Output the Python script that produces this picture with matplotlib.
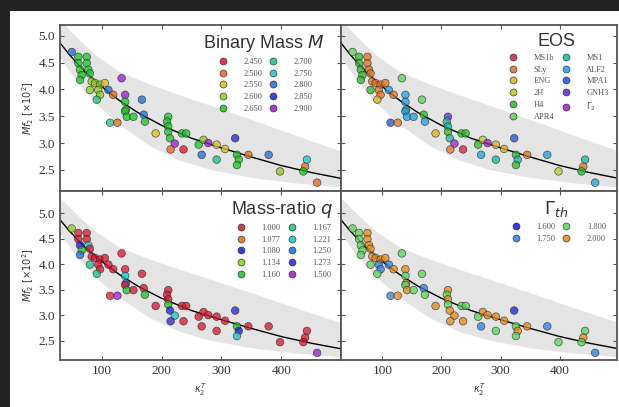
import matplotlib
matplotlib.use("Agg")
import matplotlib.pyplot as plt
from matplotlib.lines import Line2D
from matplotlib.patches import Rectangle

# tidal coupling constant and peak frequency (M f2 in units of 1e-2)
kappa = [49.6, 60.7, 74.7, 60.7, 74.7, 63.5, 77.4, 66.3, 80.0, 63.5,
         83.0, 88.6, 97.0, 105.0, 80.0, 94.0, 97.0, 91.5, 111.0, 119.0,
         133.0, 139.0, 167.0, 139.0, 140.0, 139.0, 141.7, 152.8, 170.0, 172.0,
         113.8, 126.0, 190.0, 211.0, 209.0, 211.0, 211.0, 214.0, 234.0, 241.0,
         222.0, 215.0, 236.6, 262.0, 270.0, 278.0, 292.0, 306.0, 267.0, 292.0,
         326.0, 329.0, 326.0, 345.0, 323.0, 379.0, 398.0, 443.0, 440.0, 437.0,
         460.0]
mf2 = [4.70, 4.61, 4.61, 4.49, 4.49, 4.37, 4.37, 4.27, 4.30, 4.18,
       4.15, 4.12, 4.09, 4.12, 3.99, 3.99, 3.90, 3.81, 3.99, 3.90,
       4.21, 3.90, 3.81, 3.77, 3.62, 3.59, 3.49, 3.49, 3.53, 3.40,
       3.38, 3.38, 3.18, 3.49, 3.40, 3.31, 3.21, 3.09, 3.18, 3.18,
       2.99, 2.88, 2.88, 2.97, 3.06, 3.00, 2.97, 2.89, 2.78, 2.69,
       2.78, 2.69, 2.59, 2.78, 3.09, 2.78, 2.47, 2.69, 2.56, 2.47,
       2.26]

# per-simulation properties (index into the legend lists below)
mass_idx = [7, 4, 4, 4, 4, 4, 4, 4, 4, 4,
            3, 3, 3, 2, 3, 3, 3, 5, 7, 1,
            9, 9, 7, 4, 4, 4, 4, 4, 7, 4,
            5, 1, 2, 4, 4, 4, 4, 4, 4, 4,
            9, 1, 0, 4, 3, 9, 2, 2, 7, 5,
            4, 4, 4, 1, 8, 7, 3, 6, 1, 4,
            1]
eos_idx = [5, 4, 1, 4, 1, 4, 1, 4, 1, 4,
           1, 1, 1, 1, 4, 1, 1, 2, 7, 1,
           5, 7, 5, 7, 6, 7, 7, 7, 4, 7,
           8, 1, 2, 9, 6, 6, 4, 6, 4, 4,
           10, 1, 0, 4, 3, 10, 2, 2, 7, 6,
           4, 6, 4, 1, 8, 7, 3, 6, 1, 4,
           7]
q_idx = [3, 0, 0, 0, 0, 2, 6, 4, 0, 7,
         0, 0, 0, 0, 5, 0, 0, 5, 0, 0,
         0, 0, 0, 6, 7, 0, 4, 0, 0, 4,
         0, 9, 0, 0, 0, 0, 4, 2, 0, 0,
         6, 8, 0, 0, 0, 0, 0, 0, 0, 0,
         4, 2, 6, 0, 8, 0, 0, 0, 0, 0,
         9]
gamma_idx = [2, 2, 3, 2, 3, 2, 3, 2, 3, 2,
             3, 3, 3, 3, 2, 1, 1, 2, 1, 3,
             2, 3, 2, 2, 3, 2, 3, 2, 1, 2,
             1, 3, 3, 3, 2, 3, 2, 3, 2, 2,
             3, 3, 3, 2, 3, 3, 3, 3, 1, 2,
             2, 3, 2, 3, 0, 1, 2, 2, 3, 2,
             1]

mass_labels = ["2.450", "2.500", "2.550", "2.600", "2.650",
               "2.700", "2.750", "2.800", "2.850", "2.900"]
mass_colors = ["#d8142e", "#e0671a", "#d6c21a", "#8ccc1a", "#18c424",
               "#14c482", "#14c4c4", "#1e6ad8", "#2222d0", "#9a1ad0"]
eos_labels = ["MS1b", "SLy", "ENG", "2H", "H4", "APR4",
              "MS1", "ALF2", "MPA1", "GNH3", r"$\Gamma_2$"]
eos_colors = ["#d01e3a", "#e0701e", "#d8b020", "#b4cc22", "#2ab82a", "#5ad45a",
              "#16b89a", "#1ea0dc", "#1e50d0", "#5a2ad0", "#a020d0"]
q_labels = ["1.000", "1.077", "1.080", "1.134", "1.160",
            "1.167", "1.221", "1.250", "1.273", "1.500"]
q_colors = ["#d8142e", "#e0671a", "#1a1ad8", "#8ccc1a", "#18c424",
            "#14c482", "#14c4c4", "#1e6ad8", "#2a22d0", "#9a1ad0"]
gamma_labels = ["1.600", "1.750", "1.800", "2.000"]
gamma_colors = ["#1a1ad0", "#2a82e0", "#5ad45a", "#e08a1a"]

# fit curve
fit_k = [30, 45, 60, 75, 90, 110, 130, 160, 200, 250, 300, 350, 400, 450, 500]
fit_f = [4.87, 4.66, 4.47, 4.30, 4.15, 3.96, 3.79, 3.57, 3.33, 3.09, 2.91, 2.74, 2.58, 2.45, 2.34]
# uncertainty band edges
band_k = [30, 60, 90, 130, 180, 230, 280, 350, 420, 500]
band_hi = [5.30, 4.95, 4.64, 4.33, 4.10, 3.90, 3.71, 3.44, 3.16, 2.85]
band_lo = [4.60, 4.12, 3.74, 3.34, 2.95, 2.68, 2.51, 2.36, 2.26, 2.18]

W, H = 619, 407
fig = plt.figure(figsize=(W / 100, H / 100), dpi=100, facecolor="#232323")
fig.patches.append(Rectangle((10 / W, 0), 1, 1 - 11 / H, transform=fig.transFigure,
                             facecolor="white", edgecolor="none", zorder=-5))

def px_axes(x0, y0, x1, y1):
    return fig.add_axes([x0 / W, 1 - y1 / H, (x1 - x0) / W, (y1 - y0) / H])

axes = [px_axes(60, 24.7, 341, 190.7), px_axes(341, 24.7, 617, 190.7),
        px_axes(60, 190.7, 341, 360), px_axes(341, 190.7, 617, 360)]
ylims = [(2.11, 5.21), (2.11, 5.21), (2.12, 5.44), (2.12, 5.44)]
xlims = [(30, 500), (30, 497), (30, 500), (30, 497)]
legend_x = [0.97, 1.0, 1.0, 0.99]

panels = [
    (mass_idx, mass_labels, mass_colors, r"Binary Mass $M$"),
    (eos_idx, eos_labels, eos_colors, "EOS"),
    (q_idx, q_labels, q_colors, r"Mass-ratio $q$"),
    (gamma_idx, gamma_labels, gamma_colors, r"$\Gamma_{th}$"),
]

serif = "Liberation Serif"
for i, (ax, (idx, labels, colors, title)) in enumerate(zip(axes, panels)):
    ax.fill_between(band_k, band_lo, band_hi, color="#e4e4e4", lw=0, zorder=1)
    ax.plot(fit_k, fit_f, color="k", lw=1.0, zorder=2)
    ax.scatter(kappa, mf2, c=[colors[j] for j in idx], s=30, edgecolors="#222222",
               linewidths=0.5, alpha=0.75, zorder=3)
    ax.set_xlim(*xlims[i])
    ax.set_ylim(*ylims[i])
    ax.set_xticks([100, 200, 300, 400])
    ax.set_yticks([2.5, 3.0, 3.5, 4.0, 4.5, 5.0])
    ax.tick_params(direction="in", top=True, right=True, length=3, width=0.8,
                   color="#555555", labelsize=9.5, labelcolor="#333333")
    for lab in ax.get_xticklabels() + ax.get_yticklabels():
        lab.set_fontfamily(serif)
    for sp in ax.spines.values():
        sp.set_color("#555555")
        sp.set_linewidth(1.3)
    if i % 2 == 1:
        ax.tick_params(labelleft=False)
    else:
        ax.set_ylabel(r"$M f_2\ [\times 10^2]$", fontsize=7, labelpad=2, color="#333333")
    if i < 2:
        ax.tick_params(labelbottom=False)
    else:
        ax.set_xlabel(r"$\kappa_2^T$", fontsize=7, labelpad=3, color="#333333")

    handles = [Line2D([], [], ls="none", marker="o", ms=5, mfc=c, mec="#222222",
                      mew=0.5, alpha=0.85) for c in colors]
    leg = ax.legend(handles, labels, title=title, ncol=2, loc="upper right",
                    bbox_to_anchor=(legend_x[i], 1.0),
                    frameon=False, prop={"family": serif, "size": 6},
                    title_fontproperties={"family": "Liberation Sans", "size": 13},
                    labelspacing=0.45, handletextpad=1.45, columnspacing=0.35,
                    borderaxespad=0.6)
    leg.get_title().set_color("#333333")
    for t in leg.get_texts():
        t.set_color("#555555")
    leg.set_zorder(5)

fig.savefig("out.png", dpi=100, facecolor=fig.get_facecolor())
